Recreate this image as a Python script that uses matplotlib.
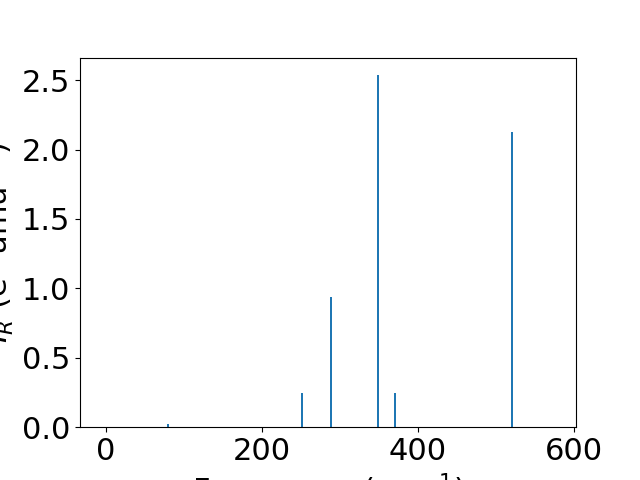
import matplotlib
matplotlib.use('Agg')
import matplotlib.pyplot as plt

# IR active modes
frequencies = [79.5, 251, 288, 349, 370, 520]
intensities = [0.022, 0.246, 0.935, 2.535, 0.246, 2.125]

plt.rcParams['font.size'] = 22

fig, ax = plt.subplots(figsize=(6.4, 4.8), dpi=100)
ax.bar(frequencies, intensities, width=2.5, color='#1f77b4')
ax.set_xlim(-33.3, 602.6)
ax.set_ylim(0, 2.662)
ax.set_xticks([0, 200, 400, 600])
ax.set_yticks([0.0, 0.5, 1.0, 1.5, 2.0, 2.5])
ax.set_xlabel('Frequency (cm$^{-1}$)')
ax.set_ylabel('$I_R$ (e$^2$ amu$^{-1}$)')

fig.savefig('out.png', dpi=100)
